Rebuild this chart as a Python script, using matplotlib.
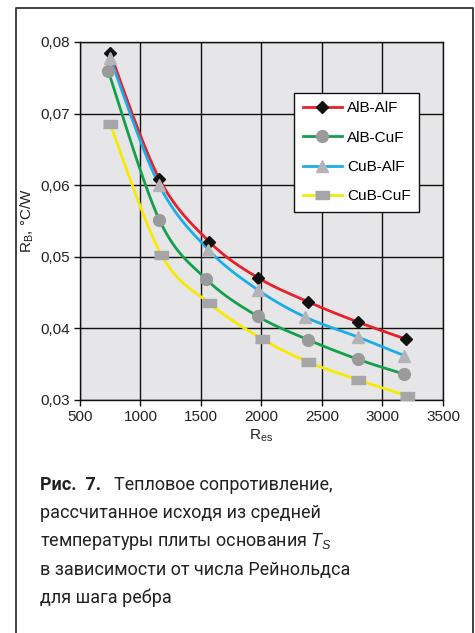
import numpy as np
import matplotlib
matplotlib.use("Agg")
import matplotlib.pyplot as plt
from matplotlib import font_manager

# Re_s numbers and thermal resistance for the four base/fin combinations
re_alb_alf = [750, 1155, 1569, 1968, 2387, 2795, 3194]
rb_alb_alf = [0.0784, 0.0609, 0.0521, 0.0471, 0.0437, 0.0409, 0.0385]

re_alb_cuf = [734, 1155, 1541, 1968, 2387, 2795, 3180]
rb_alb_cuf = [0.0759, 0.0552, 0.0469, 0.0417, 0.0384, 0.0357, 0.0336]

re_cub_alf = [750, 1155, 1560, 1968, 2360, 2795, 3180]
rb_cub_alf = [0.0777, 0.0600, 0.0510, 0.0454, 0.0416, 0.0388, 0.0362]

re_cub_cuf = [750, 1172, 1569, 2007, 2387, 2800, 3200]
rb_cub_cuf = [0.0685, 0.0503, 0.0435, 0.0385, 0.0353, 0.0328, 0.0306]

labels = ["AlB-AlF", "AlB-CuF", "CuB-AlF", "CuB-CuF"]

xticks = [500, 1000, 1500, 2000, 2500, 3000, 3500]
yticks = [0.03, 0.04, 0.05, 0.06, 0.07, 0.08]
yticklabels = ["0,03", "0,04", "0,05", "0,06", "0,07", "0,08"]


def smooth(x, y, n=20):
    # Catmull-Rom curve through the points (same look as a spreadsheet "smoothed line")
    x = np.asarray(x, float)
    y = np.asarray(y, float)
    px = np.concatenate([[x[0]], x, [x[-1]]])
    py = np.concatenate([[y[0]], y, [y[-1]]])
    xs, ys = [], []
    t = np.linspace(0, 1, n)
    for i in range(1, len(px) - 2):
        for p, out in ((px, xs), (py, ys)):
            p0, p1, p2, p3 = p[i - 1], p[i], p[i + 1], p[i + 2]
            out.extend(0.5 * ((2 * p1) + (-p0 + p2) * t
                              + (2 * p0 - 5 * p1 + 4 * p2 - p3) * t ** 2
                              + (-p0 + 3 * p1 - 3 * p2 + p3) * t ** 3))
    return np.array(xs), np.array(ys)


names = {f.name for f in font_manager.fontManager.ttflist}
cap_font = "Liberation Sans Narrow" if "Liberation Sans Narrow" in names else "Roboto"

plt.rcParams["font.family"] = ["Liberation Sans", "DejaVu Sans"]
plt.rcParams["mathtext.fontset"] = "custom"
plt.rcParams["mathtext.rm"] = "Liberation Sans"
plt.rcParams["mathtext.it"] = "Liberation Sans:italic"

fig = plt.figure(figsize=(4.75, 6.33), dpi=100)
ax = fig.add_axes([0.1684, 0.3681, 0.7642, 0.5656])
ax.set_facecolor("#e6e6e8")

rect = [(-1, -0.6), (1, -0.6), (1, 0.6), (-1, 0.6)]
series = [
    (re_alb_alf, rb_alb_alf, "#e8202a", "D", 6.5, "#111111"),
    (re_alb_cuf, rb_alb_cuf, "#13a04b", "o", 8.5, "#9a9a9a"),
    (re_cub_alf, rb_cub_alf, "#1aaee8", "^", 8.5, "#b4b4b8"),
    (re_cub_cuf, rb_cub_cuf, "#f6ea00", rect, 10, "#a6a6a8"),
]
for (x, y, col, mk, ms, mc), lab in zip(series, labels):
    sx, sy = smooth(x, y)
    ax.plot(sx, sy, color=col, lw=2, zorder=3)
    ax.plot(x, y, ls="none", marker=mk, ms=ms, mfc=mc, mec=mc, zorder=4)
    # legend proxy
    ax.plot([], [], color=col, lw=2, marker=mk, ms=ms, mfc=mc, mec=mc, label=lab)

ax.set_xlim(500, 3500)
ax.set_ylim(0.03, 0.08)
ax.set_xticks(xticks)
ax.set_yticks(yticks)
ax.set_yticklabels(yticklabels)
ax.grid(True, color="#111111", lw=1)
ax.set_axisbelow(True)
for s in ax.spines.values():
    s.set_color("#111111")
    s.set_linewidth(1)
ax.tick_params(direction="out", length=4, width=1, labelsize=11,
               color="#111111", labelcolor="#222222")

ax.set_xlabel(r"$\mathrm{R_{es}}$", fontsize=11, labelpad=2, color="#222222")
ax.set_ylabel(r"$\mathrm{R_B}$, °C/W", fontsize=11, labelpad=3, color="#222222")

leg = ax.legend(loc="upper left", bbox_to_anchor=(0.59, 0.8575), fontsize=11,
                fancybox=False, framealpha=1, edgecolor="#111111",
                handlelength=2.6, labelspacing=1.0, borderpad=0.55,
                handletextpad=0.3, borderaxespad=0)
leg.get_frame().set_linewidth(1)

# caption
fig.text(40 / 475, 1 - 485 / 633, "Рис.  7.", fontsize=13, fontweight="bold",
         family=[cap_font, "DejaVu Sans"], va="center", color="#222222")
cap = ["Тепловое сопротивление,",
       "рассчитанное исходя из средней",
       "температуры плиты основания $T_S$",
       "в зависимости от числа Рейнольдса",
       "для шага ребра"]
for i, line in enumerate(cap):
    x0 = 114 if i == 0 else 40
    fig.text(x0 / 475, 1 - (485 + 28.3 * i) / 633, line, fontsize=13,
             family=[cap_font, "DejaVu Sans"], va="center", color="#222222")

# frame around figure and caption
fx0, fx1, fy0 = 15.5 / 475, 472.5 / 475, 1 - 7.5 / 633
fig.add_artist(plt.Line2D([fx0, fx0, fx1, fx1], [0, fy0, fy0, 0],
                          transform=fig.transFigure, color="#333333", lw=1.3))

fig.savefig("out.png", dpi=100)
